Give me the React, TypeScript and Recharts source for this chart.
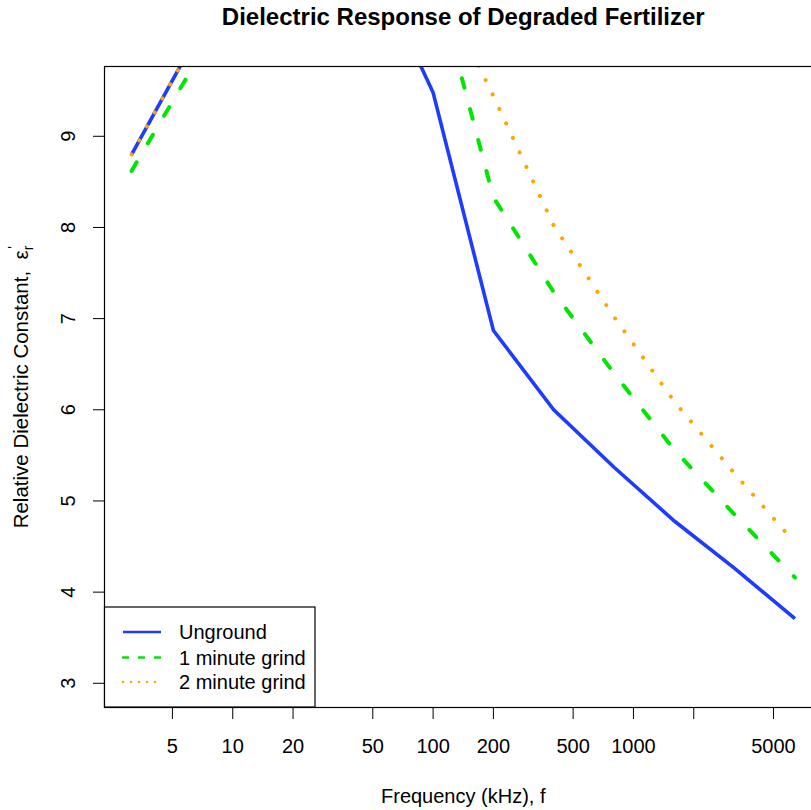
import { LineChart, Line, XAxis, YAxis } from 'recharts';

// frequency in kHz, doubling steps
const freqKHz = [3.125, 6.25, 12.5, 25, 50, 100, 200, 400, 800, 1600, 3200, 6400];

// relative dielectric constant (values above the top edge are clipped)
const unground = [8.8, 10.0, 10.8, 11.1, 10.9, 9.48, 6.87, 6.0, 5.37, 4.78, 4.26, 3.71];
const grind1 = [8.62, 9.74, 10.4, 10.8, 11.0, 10.83, 8.33, 7.29, 6.4, 5.56, 4.85, 4.16];
const grind2 = [8.8, 10.0, 10.9, 11.3, 11.4, 10.82, 9.44, 8.02, 7.02, 6.09, 5.3, 4.54];

const xTicks = [5, 10, 20, 50, 100, 200, 500, 1000, 2000, 5000];
const hiddenXLabels = [2000];
const yTicks = [3, 4, 5, 6, 7, 8, 9];

const seriesNames = ['Unground', '1 minute grind', '2 minute grind'];

const FONT = '"Liberation Sans", Arial, Helvetica, sans-serif';
const BLUE = '#1e3cff';
const GREEN = '#00e600';
const ORANGE = '#ffa500';

const data = freqKHz.map((f, i) => ({
  f,
  unground: unground[i],
  grind1: grind1[i],
  grind2: grind2[i],
}));

// R style 4% axis extension on a log axis
const logLo = Math.log10(freqKHz[0]);
const logHi = Math.log10(freqKHz[freqKHz.length - 1]);
const pad = (logHi - logLo) * 0.04;
const xDomain: [number, number] = [Math.pow(10, logLo - pad), Math.pow(10, logHi + pad)];
const yDomain: [number, number] = [2.74, 9.76];

const W = 840;
const H = 810;
const PLOT = { left: 105, top: 67, right: 821.5, bottom: 707 };

function YTick(props: any) {
  const { y, payload } = props;
  const x = 75;
  return (
    <text
      x={x}
      y={y}
      transform={`rotate(-90 ${x} ${y})`}
      textAnchor="middle"
      fontSize={20}
      fontFamily={FONT}
      fill="#000"
    >
      {payload.value}
    </text>
  );
}

function Overlay() {
  const midX = (PLOT.left + PLOT.right) / 2;
  const midY = (PLOT.top + PLOT.bottom) / 2;
  const legendRows = [
    { name: seriesNames[0], color: BLUE, dash: undefined, w: 2.4 },
    { name: seriesNames[1], color: GREEN, dash: '5 11', w: 2.6 },
    { name: seriesNames[2], color: ORANGE, dash: '0.1 7.9', w: 2.4 },
  ];
  const rowY = [632, 657.5, 682];
  return (
    <svg
      width={W}
      height={H}
      style={{ position: 'absolute', left: 0, top: 0, pointerEvents: 'none' }}
      fontFamily={FONT}
    >
      <text x={midX} y={25} textAnchor="middle" fontSize={24} fontWeight="bold" fill="#000">
        Dielectric Response of Degraded Fertilizer
      </text>
      <text x={midX} y={803} textAnchor="middle" fontSize={20} fill="#000">
        Frequency (kHz), f
      </text>
      <text
        x={28}
        y={midY}
        transform={`rotate(-90 28 ${midY})`}
        textAnchor="middle"
        fontSize={20.5}
        fill="#000"
      >
        Relative Dielectric Constant,{'\u00a0\u00a0'}ε
        <tspan fontSize={14} dy={5}>r</tspan>
        <tspan fontSize={14} dy={-15} dx={-3}>'</tspan>
      </text>
      <rect
        x={PLOT.left - 0.5}
        y={PLOT.top - 0.5}
        width={PLOT.right - PLOT.left + 1}
        height={PLOT.bottom - PLOT.top + 1}
        fill="none"
        stroke="#000"
        strokeWidth={1.2}
      />
      {/* legend */}
      <rect x={104.5} y={607} width={210.5} height={100} fill="#fff" stroke="#000" strokeWidth={1.2} />
      {legendRows.map((r, i) => (
        <g key={r.name}>
          <line
            x1={123}
            x2={161}
            y1={rowY[i]}
            y2={rowY[i]}
            stroke={r.color}
            strokeWidth={r.w}
            strokeDasharray={r.dash}
            strokeLinecap={r.dash ? 'round' : 'butt'}
          />
          <text x={179} y={rowY[i] + 7} fontSize={20} fill="#000">
            {r.name}
          </text>
        </g>
      ))}
    </svg>
  );
}

export default function App() {
  return (
    <div style={{ position: 'relative', width: 811, height: 810, overflow: 'hidden', background: '#fff' }}>
      <style>{'body{margin:0;overflow:hidden}'}</style>
      <LineChart
        width={W}
        height={H}
        data={data}
        margin={{ top: PLOT.top, right: W - PLOT.right, left: 0, bottom: 0 }}
      >
        <XAxis
          dataKey="f"
          type="number"
          scale="log"
          domain={xDomain}
          allowDataOverflow
          ticks={xTicks}
          interval={0}
          height={H - PLOT.bottom}
          tickSize={12}
          tickMargin={20}
          axisLine={false}
          tickLine={{ stroke: '#000' }}
          tick={{ fontSize: 20, fill: '#000', fontFamily: FONT }}
          tickFormatter={(v: number) => (hiddenXLabels.includes(v) ? '' : String(v))}
        />
        <YAxis
          type="number"
          domain={yDomain}
          allowDataOverflow
          ticks={yTicks}
          interval={0}
          width={PLOT.left}
          tickSize={12}
          axisLine={false}
          tickLine={{ stroke: '#000' }}
          tick={<YTick />}
        />
        <Line
          dataKey="unground"
          name={seriesNames[0]}
          stroke={BLUE}
          strokeWidth={3.6}
          dot={false}
          activeDot={false}
          type="linear"
          isAnimationActive={false}
        />
        <Line
          dataKey="grind1"
          name={seriesNames[1]}
          stroke={GREEN}
          strokeWidth={4}
          strokeDasharray="10 22"
          strokeLinecap="round"
          dot={false}
          activeDot={false}
          type="linear"
          isAnimationActive={false}
        />
        <Line
          dataKey="grind2"
          name={seriesNames[2]}
          stroke={ORANGE}
          strokeWidth={4}
          strokeDasharray="0.1 15.9"
          strokeLinecap="round"
          dot={false}
          activeDot={false}
          type="linear"
          isAnimationActive={false}
        />
      </LineChart>
      <Overlay />
    </div>
  );
}
